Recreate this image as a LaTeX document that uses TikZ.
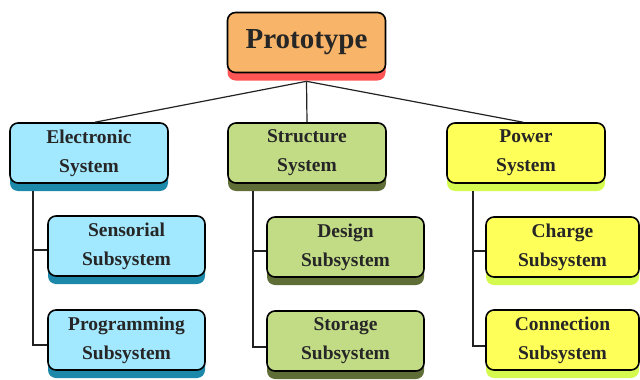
\documentclass[tikz,border=0pt]{standalone}
\usepackage{fontspec}
\setmainfont{Liberation Serif}
\usetikzlibrary{shadows}

\definecolor{protofill}{HTML}{F8B468}
\definecolor{protoshade}{HTML}{FF5555}
\definecolor{elecfill}{HTML}{A2E8FF}
\definecolor{elecshade}{HTML}{1C88AA}
\definecolor{strucfill}{HTML}{C2DC86}
\definecolor{strucshade}{HTML}{5E6E36}
\definecolor{powfill}{HTML}{FFFF5A}
\definecolor{powshade}{HTML}{D4FA50}
\definecolor{linkcol}{HTML}{222222}

\tikzset{
  blockbase/.style={draw=black, line width=1.6pt, rounded corners=8pt,
    align=center, inner sep=2pt, text=black!85,
    font=\bfseries\fontsize{19.5}{29}\selectfont},
  topbox/.style={blockbase, minimum width=158pt, minimum height=60pt},
  subbox/.style={blockbase, minimum width=157pt, minimum height=60pt},
  shade/.style={drop shadow={shadow xshift=0pt, shadow yshift=-8pt,
    fill=#1, opacity=1}},
  link/.style={draw=linkcol, line width=1.2pt},
}

\begin{document}
\begin{tikzpicture}[x=1pt, y=-1pt]
  \useasboundingbox (0,0) rectangle (640,380);

  % root
  \node[topbox, fill=protofill, shade=protoshade,
        font=\bfseries\fontsize{29}{34}\selectfont] (proto) at (306.5,42.5) {Prototype};

  % second level
  \node[topbox, fill=elecfill, shade=elecshade]   (elec)  at (89,153)  {Electronic\\System};
  \node[topbox, fill=strucfill, shade=strucshade] (struc) at (307,153) {Structure\\System};
  \node[topbox, fill=powfill, shade=powshade]     (pow)   at (526,153) {Power\\System};

  % third level
  \node[subbox, fill=elecfill, shade=elecshade]   (sens)  at (126.5,246) {Sensorial\\Subsystem};
  \node[subbox, fill=elecfill, shade=elecshade]   (prog)  at (126.5,340) {Programming\\Subsystem};
  \node[subbox, fill=strucfill, shade=strucshade] (des)   at (345.5,247) {Design\\Subsystem};
  \node[subbox, fill=strucfill, shade=strucshade] (stor)  at (345.5,341) {Storage\\Subsystem};
  \node[subbox, minimum width=153pt, fill=powfill, shade=powshade] (chg) at (562.5,247) {Charge\\Subsystem};
  \node[subbox, minimum width=153pt, fill=powfill, shade=powshade] (conn) at (562.5,340) {Connection\\Subsystem};

  % tree links from the root
  \coordinate (apex) at ([yshift=-8pt]proto.south);
  \draw[link] (apex) -- ([xshift=6pt]elec.north);
  \draw[link] (apex) -- (struc.north);
  \draw[link] (apex) -- ([xshift=-3pt]pow.north);

  % branch rails
  \coordinate (erail) at (33,191);
  \coordinate (srail) at (253,191);
  \coordinate (prail) at (473,191);
  \draw[link] (erail) |- ([yshift=-4pt]sens.west);
  \draw[link] (erail) |- ([yshift=-5pt]prog.west);
  \draw[link] (srail) |- ([yshift=-4pt]des.west);
  \draw[link] (srail) |- ([yshift=-6pt]stor.west);
  \draw[link] (prail) |- ([yshift=-4pt]chg.west);
  \draw[link] (prail) |- ([yshift=-6pt]conn.west);
\end{tikzpicture}
\end{document}
